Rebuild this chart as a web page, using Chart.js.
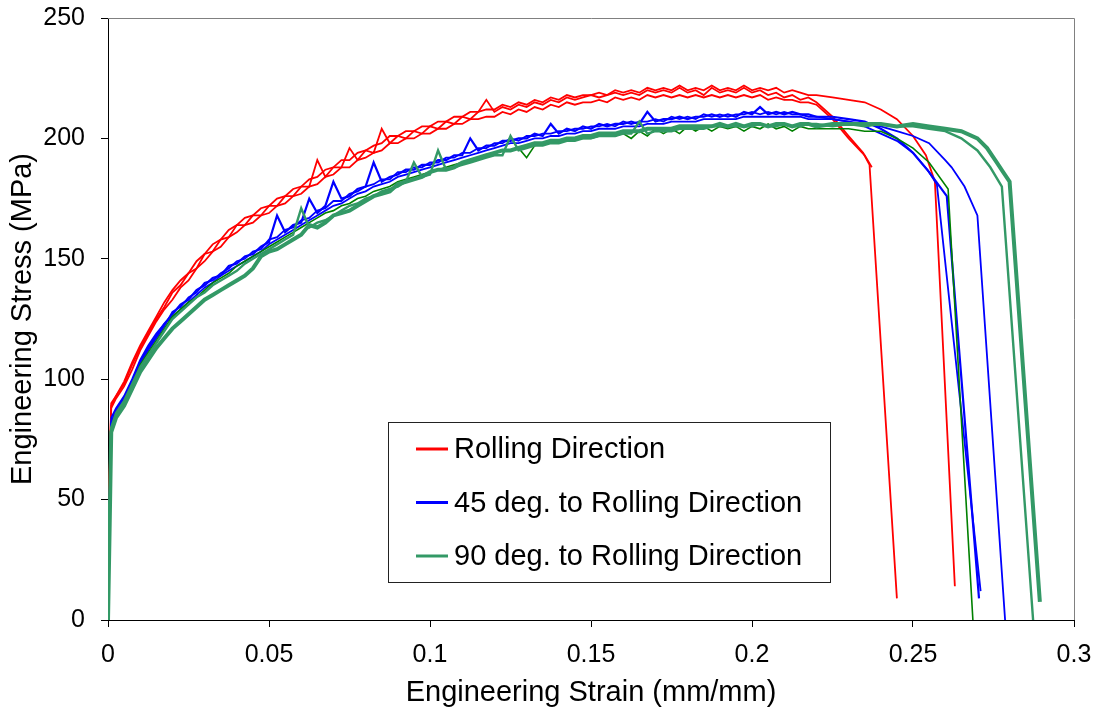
<!DOCTYPE html>
<html>
<head>
<meta charset="utf-8">
<script src="https://cdn.jsdelivr.net/npm/chart.js@4.4.1/dist/chart.umd.min.js"></script>
<style>
  html, body { margin: 0; padding: 0; background: #fff; }
  #wrap { width: 1097px; height: 713px; }
</style>
</head>
<body>
<div id="wrap"><canvas id="chart" width="1097" height="713"></canvas></div>
<script>
// strain points of the elastic / early hardening part (mm/mm)
const earlyStrain = [0, 0.0005, 0.001, 0.0025, 0.005, 0.0075, 0.01, 0.0125, 0.015, 0.0175];
// hardening part: 0.02 .. 0.22 every 0.0025
const mainStrain = [
  0.02, 0.0225, 0.025, 0.0275, 0.03, 0.0325, 0.035, 0.0375, 0.04, 0.0425,
  0.045, 0.0475, 0.05, 0.0525, 0.055, 0.0575, 0.06, 0.0625, 0.065, 0.0675,
  0.07, 0.0725, 0.075, 0.0775, 0.08, 0.0825, 0.085, 0.0875, 0.09, 0.0925,
  0.095, 0.0975, 0.1, 0.1025, 0.105, 0.1075, 0.11, 0.1125, 0.115, 0.1175,
  0.12, 0.1225, 0.125, 0.1275, 0.13, 0.1325, 0.135, 0.1375, 0.14, 0.1425,
  0.145, 0.1475, 0.15, 0.1525, 0.155, 0.1575, 0.16, 0.1625, 0.165, 0.1675,
  0.17, 0.1725, 0.175, 0.1775, 0.18, 0.1825, 0.185, 0.1875, 0.19, 0.1925,
  0.195, 0.1975, 0.2, 0.2025, 0.205, 0.2075, 0.21, 0.2125, 0.215, 0.2175,
  0.22];

// ---- Rolling direction (MPa) ----
const rd1Early = [0, 62, 89, 93, 98, 106, 113, 119, 125, 130];
const rd1Main = [
  136, 139, 144, 146, 152, 153, 158, 159, 164, 164,
  168, 168, 172, 172, 176, 176, 180, 180, 191, 184,
  188, 188, 196, 191, 195, 194, 204, 198, 201, 200,
  203, 202, 205, 204, 207, 206, 209, 208, 211, 216,
  211, 213, 212, 214, 213, 215, 214, 216, 215, 217,
  216, 217, 218, 217, 218, 219, 218, 219, 218, 220,
  219, 220, 219, 221, 219, 220, 218, 221, 219, 220,
  219, 221, 219, 220, 218, 219, 217, 218, 216, 217,
  215];
const rd1TailStrain = [0.225, 0.23, 0.2345, 0.2365, 0.245];
const rd1TailStress = [209, 201, 194, 189, 9];

const rd2Early = [0, 60, 90, 93, 99, 107, 114, 120, 126, 132];
const rd2Main = [
  137, 141, 144, 149, 152, 156, 158, 162, 164, 167,
  168, 171, 172, 175, 176, 179, 180, 183, 184, 187,
  188, 191, 191, 194, 195, 197, 198, 201, 201, 203,
  203, 205, 205, 207, 207, 209, 209, 211, 211, 212,
  212, 214, 213, 215, 214, 216, 215, 217, 216, 218,
  217, 218, 218, 219, 218, 220, 219, 220, 219, 221,
  220, 221, 220, 222, 220, 221, 220, 222, 220, 221,
  220, 222, 220, 221, 220, 221, 219, 220, 219, 218,
  218];
const rd2TailStrain = [0.225, 0.23, 0.235, 0.24, 0.245, 0.25, 0.254, 0.2568, 0.263];
const rd2TailStress = [217, 216, 215, 212, 208, 201, 193, 182, 14];

const rd3Early = [0, 58, 88, 92, 97, 104, 112, 118, 124, 129];
const rd3Main = [
  133, 138, 141, 146, 149, 153, 155, 159, 161, 164,
  165, 168, 169, 172, 173, 176, 177, 180, 181, 184,
  185, 188, 188, 191, 192, 194, 195, 198, 198, 200,
  200, 202, 202, 204, 204, 206, 206, 208, 208, 209,
  209, 211, 210, 212, 211, 213, 212, 214, 213, 215,
  214, 215, 215, 216, 215, 217, 216, 217, 216, 218,
  217, 218, 217, 218, 217, 218, 217, 218, 217, 218,
  217, 218, 217, 218, 216, 217, 216, 216, 215, 215,
  214];
const rd3TailStrain = [0.225, 0.23, 0.235, 0.2372];
const rd3TailStress = [208, 200, 193, 188];

// ---- 45 deg. to rolling direction ----
const d45aEarly = [0, 50, 84, 88, 93, 100, 108, 114, 119, 123];
const d45aMain = [
  126, 129, 132, 135, 138, 140, 143, 145, 147, 149,
  151, 153, 156, 158, 160, 162, 164, 166, 168, 170,
  172, 173, 175, 177, 178, 180, 181, 182, 184, 185,
  186, 187, 188, 189, 190, 191, 192, 193, 194, 195,
  196, 197, 198, 198, 199, 200, 200, 201, 201, 202,
  202, 203, 203, 204, 204, 204, 205, 205, 205, 206,
  206, 206, 207, 207, 207, 207, 208, 208, 208, 208,
  208, 209, 209, 209, 209, 209, 209, 209, 209, 208,
  208];
const d45aTailStrain = [0.225, 0.23, 0.235, 0.24, 0.245, 0.25, 0.255, 0.26, 0.262, 0.266, 0.27, 0.2786];
const d45aTailStress = [208, 207, 206, 205, 203, 201, 198, 191, 188, 180, 168, 0];

const d45bEarly = [0, 45, 82, 87, 92, 99, 107, 113, 118, 123];
const d45bMain = [
  127, 131, 133, 137, 139, 142, 143, 147, 148, 151,
  152, 155, 157, 168, 161, 164, 165, 175, 169, 172,
  182, 175, 176, 179, 180, 190, 182, 184, 185, 187,
  187, 189, 189, 191, 191, 193, 193, 200, 195, 197,
  197, 199, 199, 200, 200, 202, 201, 206, 202, 204,
  203, 205, 204, 206, 205, 206, 206, 207, 206, 211,
  207, 208, 208, 209, 208, 209, 209, 210, 209, 210,
  209, 211, 210, 213, 210, 211, 210, 211, 210, 210,
  209];
const d45bTailStrain = [0.225, 0.23, 0.235, 0.24, 0.245, 0.25, 0.255, 0.2605, 0.2705];
const d45bTailStress = [209, 208, 207, 204, 200, 194, 186, 176, 9];

const d45cEarly = [0, 40, 80, 86, 91, 98, 106, 112, 117, 122];
const d45cMain = [
  128, 130, 134, 136, 140, 141, 144, 146, 149, 150,
  153, 154, 158, 159, 162, 163, 166, 167, 170, 171,
  174, 174, 177, 178, 180, 181, 183, 183, 186, 186,
  188, 188, 190, 190, 192, 192, 194, 194, 196, 196,
  198, 198, 200, 199, 201, 201, 202, 202, 203, 203,
  204, 204, 205, 205, 206, 205, 207, 206, 207, 207,
  208, 207, 209, 208, 209, 208, 210, 209, 210, 209,
  210, 210, 211, 210, 211, 210, 211, 210, 210, 209,
  209];
const d45cTailStrain = [0.225, 0.23, 0.235, 0.24, 0.245, 0.25, 0.2545, 0.2574, 0.271];
const d45cTailStress = [208, 207, 205, 202, 199, 194, 187, 181, 12];

// ---- 90 deg. to rolling direction ----
const d90aEarly = [0, 40, 78, 85, 90, 97, 106, 111, 116, 121];
const d90aMain = [
  126, 129, 132, 134, 137, 140, 142, 144, 147, 149,
  151, 153, 155, 157, 159, 161, 163, 165, 167, 169,
  170, 172, 173, 175, 176, 178, 179, 180, 182, 183,
  184, 185, 186, 187, 188, 189, 190, 191, 192, 193,
  194, 195, 195, 196, 192, 197, 198, 198, 199, 199,
  200, 200, 200, 201, 201, 201, 202, 200, 203, 201,
  204, 202, 204, 202, 205, 203, 205, 203, 205, 204,
  205, 203, 205, 204, 206, 204, 205, 203, 205, 204,
  204];
const d90aTailStrain = [0.225, 0.23, 0.235, 0.24, 0.245, 0.25, 0.255, 0.2609, 0.2686];
const d90aTailStress = [204, 204, 203, 203, 200, 196, 190, 179, 0];

const d90bEarly = [0, 42, 80, 86, 91, 98, 105, 110, 115, 120];
const d90bMain = [
  125, 128, 131, 134, 136, 139, 141, 143, 145, 148,
  150, 152, 154, 156, 158, 160, 171, 163, 165, 166,
  168, 170, 172, 173, 175, 176, 178, 179, 180, 182,
  190, 184, 185, 195, 187, 188, 189, 190, 191, 192,
  193, 193, 201, 195, 196, 197, 197, 198, 198, 199,
  199, 200, 200, 201, 201, 201, 202, 202, 207, 202,
  203, 203, 203, 204, 204, 204, 204, 205, 205, 205,
  205, 205, 205, 206, 205, 205, 206, 205, 205, 206,
  206];
const d90bTailStrain = [0.225, 0.23, 0.235, 0.24, 0.245, 0.25, 0.255, 0.26, 0.265, 0.27, 0.274, 0.2776, 0.2873];
const d90bTailStress = [205, 206, 205, 206, 205, 205, 204, 203, 200, 195, 188, 180, 0];

const d90cEarly = [0, 38, 78, 84, 89, 96, 103, 108, 113, 117];
const d90cMain = [
  121, 124, 127, 130, 133, 135, 137, 139, 141, 143,
  146, 151, 153, 154, 156, 158, 160, 164, 163, 165,
  168, 169, 170, 172, 174, 176, 177, 178, 181, 182,
  183, 184, 186, 187, 187, 188, 190, 191, 192, 193,
  194, 195, 195, 196, 197, 198, 198, 199, 199, 200,
  200, 201, 201, 202, 202, 202, 203, 203, 203, 204,
  204, 204, 204, 205, 205, 205, 205, 205, 206, 205,
  206, 205, 206, 206, 205, 206, 206, 205, 206, 206,
  205];
const d90cTailStrain = [0.225, 0.23, 0.235, 0.24, 0.245, 0.25, 0.255, 0.26, 0.265, 0.27, 0.273, 0.276, 0.278, 0.28, 0.2894];
const d90cTailStress = [206, 206, 206, 206, 205, 206, 205, 204, 203, 200, 196, 190, 186, 182, 7.5];

const legendLabels = ['Rolling Direction', '45 deg. to Rolling Direction', '90 deg. to Rolling Direction'];
const legendColors = ['#ff0000', '#0000ff', '#339966'];

const FONT = "'Liberation Sans', Arial, sans-serif";
Chart.defaults.font.family = FONT;
Chart.defaults.color = '#000';

function curve(early, main, tailStrain, tailStress) {
  const pts = earlyStrain.map((x, i) => ({ x, y: early[i] }));
  mainStrain.forEach((x, i) => pts.push({ x, y: main[i] }));
  tailStrain.forEach((x, i) => pts.push({ x, y: tailStress[i] }));
  return pts;
}

function ds(data, color, width, order) {
  return { data, borderColor: color, backgroundColor: color, borderWidth: width, pointRadius: 0, tension: 0, fill: false, order };
}

// gray frame on top/right of the plot area
const framePlugin = {
  id: 'frame',
  afterDraw(chart) {
    const { ctx, chartArea: a } = chart;
    ctx.save();
    ctx.strokeStyle = '#808080';
    ctx.lineWidth = 1;
    ctx.beginPath();
    ctx.moveTo(a.left, a.top + 0.5);
    ctx.lineTo(a.right + 0.5, a.top + 0.5);
    ctx.lineTo(a.right + 0.5, a.bottom);
    ctx.stroke();
    ctx.restore();
  }
};

// boxed legend inside the plot
const boxLegend = {
  id: 'boxLegend',
  afterDraw(chart, args, opts) {
    const { ctx, chartArea: a } = chart;
    const x0 = a.left + opts.left, y0 = a.top + opts.top;
    ctx.save();
    ctx.fillStyle = '#fff';
    ctx.fillRect(x0, y0, opts.width, opts.height);
    ctx.strokeStyle = '#222';
    ctx.lineWidth = 1;
    ctx.strokeRect(x0 + 0.5, y0 + 0.5, opts.width, opts.height);
    ctx.font = '29px ' + FONT;
    ctx.textBaseline = 'middle';
    ctx.textAlign = 'left';
    legendLabels.forEach((label, i) => {
      const y = y0 + opts.firstRow + i * opts.rowGap;
      ctx.strokeStyle = legendColors[i];
      ctx.lineWidth = 3;
      ctx.beginPath();
      ctx.moveTo(x0 + 28, y);
      ctx.lineTo(x0 + 60, y);
      ctx.stroke();
      ctx.fillStyle = '#000';
      ctx.fillText(label, x0 + 66, y + 1);
    });
    ctx.restore();
  }
};

new Chart(document.getElementById('chart'), {
  type: 'line',
  plugins: [framePlugin, boxLegend],
  data: {
    datasets: [
      ds(curve(d90cEarly, d90cMain, d90cTailStrain, d90cTailStress), '#339966', 4, 1),
      ds(curve(d90bEarly, d90bMain, d90bTailStrain, d90bTailStress), '#339966', 2.4, 2),
      ds(curve(d90aEarly, d90aMain, d90aTailStrain, d90aTailStress), '#008000', 1.6, 3),
      ds(curve(d45aEarly, d45aMain, d45aTailStrain, d45aTailStress), '#0000ff', 1.8, 4),
      ds(curve(d45bEarly, d45bMain, d45bTailStrain, d45bTailStress), '#0000ff', 2.2, 5),
      ds(curve(d45cEarly, d45cMain, d45cTailStrain, d45cTailStress), '#0000ff', 1.8, 6),
      ds(curve(rd1Early, rd1Main, rd1TailStrain, rd1TailStress), '#ff0000', 1.8, 7),
      ds(curve(rd2Early, rd2Main, rd2TailStrain, rd2TailStress), '#ff0000', 1.8, 8),
      ds(curve(rd3Early, rd3Main, rd3TailStrain, rd3TailStress), '#ff0000', 1.8, 9)
    ]
  },
  options: {
    responsive: false,
    animation: false,
    devicePixelRatio: 1,
    layout: { padding: { left: 0, right: 23, top: 18, bottom: 0 } },
    scales: {
      x: {
        type: 'linear', min: 0, max: 0.3,
        afterFit: (s) => { s.height = 93; s.paddingLeft = 0; s.paddingRight = 0; },
        border: { color: '#000', width: 1 },
        grid: { drawOnChartArea: false, drawTicks: true, tickLength: 7, tickColor: '#000' },
        ticks: { stepSize: 0.05, padding: 13, font: { size: 25 }, maxRotation: 0,
          callback: (v) => String(Number(v.toFixed(2))) },
        title: { display: true, text: 'Engineering Strain (mm/mm)', font: { size: 29 }, padding: { top: 0, bottom: 3 } }
      },
      y: {
        min: 0, max: 250,
        afterFit: (s) => { s.width = 108; s.paddingTop = 0; s.paddingBottom = 0; },
        border: { color: '#000', width: 1 },
        grid: { drawOnChartArea: false, drawTicks: true, tickLength: 7, tickColor: '#000' },
        ticks: { stepSize: 50, padding: 16, font: { size: 25 } },
        title: { display: true, text: 'Engineering Stress (MPa)', font: { size: 29 }, padding: { top: 6, bottom: 0 } }
      }
    },
    plugins: {
      legend: { display: false },
      tooltip: { enabled: false },
      boxLegend: { left: 280, top: 404, width: 442, height: 160, firstRow: 27, rowGap: 53.5 }
    }
  }
});
</script>
</body>
</html>
